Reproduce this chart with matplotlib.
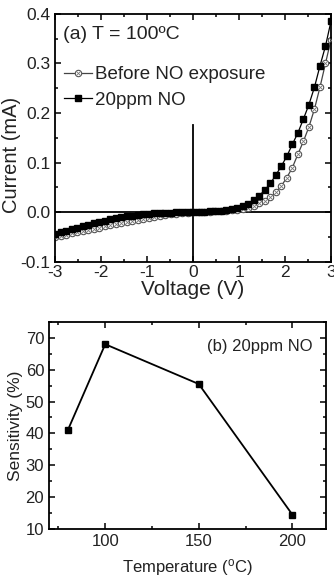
import numpy as np
import matplotlib
matplotlib.use('Agg')
import matplotlib.pyplot as plt
from matplotlib.ticker import MultipleLocator

plt.rcParams['font.family'] = ['Liberation Sans', 'DejaVu Sans']
plt.rcParams['mathtext.fontset'] = 'custom'
plt.rcParams['mathtext.rm'] = 'Liberation Sans'

# I-V sweep (V) and currents (mA)
voltage = [-3.00, -2.88, -2.76, -2.64, -2.52, -2.40, -2.28, -2.16, -2.04, -1.92,
           -1.80, -1.68, -1.56, -1.44, -1.32, -1.20, -1.08, -0.96, -0.84, -0.72,
           -0.60, -0.48, -0.36, -0.24, -0.12, 0.00, 0.12, 0.24, 0.36, 0.48,
           0.60, 0.72, 0.84, 0.96, 1.08, 1.20, 1.32, 1.44, 1.56, 1.68,
           1.80, 1.92, 2.04, 2.16, 2.28, 2.40, 2.52, 2.64, 2.76, 2.88, 3.00]

i_before = [-0.050, -0.047, -0.045, -0.042, -0.040, -0.037, -0.035, -0.033, -0.031, -0.028,
            -0.026, -0.024, -0.021, -0.019, -0.017, -0.015, -0.013, -0.011, -0.009, -0.007,
            -0.006, -0.004, -0.003, -0.002, -0.001, 0.000, 0.0003, 0.0006, 0.001, 0.0015,
            0.002, 0.003, 0.004, 0.005, 0.007, 0.009, 0.013, 0.018, 0.023, 0.030,
            0.040, 0.053, 0.070, 0.090, 0.117, 0.143, 0.172, 0.208, 0.252, 0.300, 0.348]

i_no = [-0.043, -0.040, -0.037, -0.034, -0.031, -0.028, -0.025, -0.022, -0.019, -0.017,
        -0.014, -0.012, -0.010, -0.008, -0.007, -0.005, -0.004, -0.003, -0.002, -0.002,
        -0.001, -0.001, -0.0005, 0.000, 0.000, 0.000, 0.0005, 0.001, 0.0015, 0.002,
        0.003, 0.004, 0.006, 0.009, 0.012, 0.017, 0.024, 0.033, 0.045, 0.058,
        0.075, 0.093, 0.113, 0.137, 0.160, 0.188, 0.217, 0.252, 0.295, 0.335, 0.385]

# sensitivity vs temperature, panel (b)
temperature = [80, 100, 150, 200]
sensitivity = [41, 68, 55.5, 14.5]

txt = '#222222'

fig = plt.figure(figsize=(3.34, 5.78), dpi=100)
ax1 = fig.add_axes([0.165, 0.547, 0.826, 0.429])
ax2 = fig.add_axes([0.147, 0.085, 0.829, 0.358])

# ---- panel (a)
ax1.axhline(0, color='black', lw=1.3, zorder=1)
ax1.plot([0, 0], [-0.1, 0.175], color='black', lw=1.3, zorder=1)

h_line, = ax1.plot(voltage, i_before, '-', color='#444444', lw=0.9,
                   marker='o', ms=4.6, mfc='white', mec='#555555', mew=0.8, zorder=2)
h_x, = ax1.plot(voltage, i_before, ls='none', marker='x', ms=3.4,
                mec='#777777', mew=0.6, zorder=3)
h_no, = ax1.plot(voltage, i_no, '-', color='black', lw=0.9,
                 marker='s', ms=4.8, mfc='black', mec='black', zorder=4)

ax1.set_xlim(-3, 3)
ax1.set_ylim(-0.1, 0.4)
ax1.xaxis.set_minor_locator(MultipleLocator(0.5))
ax1.yaxis.set_minor_locator(MultipleLocator(0.05))
ax1.set_xticks([-3, -2, -1, 0, 1, 2, 3])
ax1.set_xticklabels(['-3', '-2', '-1', '0', '1', '2', '3'])
ax1.set_yticks([-0.1, 0.0, 0.1, 0.2, 0.3, 0.4])
ax1.set_yticklabels(['-0.1', '0.0', '0.1', '0.2', '0.3', '0.4'])
ax1.set_xlabel('Voltage (V)', fontsize=15, color=txt, labelpad=0)
ax1.set_ylabel('Current (mA)', fontsize=14.5, color=txt)
ax1.yaxis.set_label_coords(-0.125, 0.43)
ax1.text(0.028, 0.915, '(a) T = 100\u00baC', transform=ax1.transAxes,
         fontsize=14, color=txt, va='center', ha='left')
ax1.legend(handles=[(h_line, h_x), h_no],
           labels=['Before NO exposure', '20ppm NO'],
           loc='upper left', bbox_to_anchor=(-0.01, 0.835), frameon=False,
           fontsize=13.5, handlelength=1.5, handletextpad=0.2,
           labelspacing=0.45, borderaxespad=0.2, labelcolor=txt)

# ---- panel (b)
ax2.plot(temperature, sensitivity, '-', color='black', lw=1.3,
         marker='s', ms=4.8, mfc='black', mec='black')
ax2.set_xlim(70, 218)
ax2.set_ylim(10, 75)
ax2.xaxis.set_major_locator(MultipleLocator(50))
ax2.xaxis.set_minor_locator(MultipleLocator(25))
ax2.yaxis.set_major_locator(MultipleLocator(10))
ax2.yaxis.set_minor_locator(MultipleLocator(5))
ax2.set_xlabel(r'Temperature ($\mathrm{^{o}}$C)', fontsize=12, color=txt, labelpad=6)
ax2.set_ylabel('Sensitivity (%)', fontsize=12.5, color=txt, labelpad=2)
ax2.text(0.95, 0.88, '(b) 20ppm NO', transform=ax2.transAxes,
         fontsize=12, color=txt, va='center', ha='right')

for ax, ls in ((ax1, 12.5), (ax2, 12)):
    ax.tick_params(which='both', direction='in', top=True, right=True,
                   labelsize=ls, labelcolor=txt, width=1.1)
    ax.tick_params(which='major', length=4)
    ax.tick_params(which='minor', length=2.5)
    for s in ax.spines.values():
        s.set_linewidth(1.3)
ax1.tick_params(axis='x', which='major', pad=2)

fig.savefig('out.png', dpi=100)
